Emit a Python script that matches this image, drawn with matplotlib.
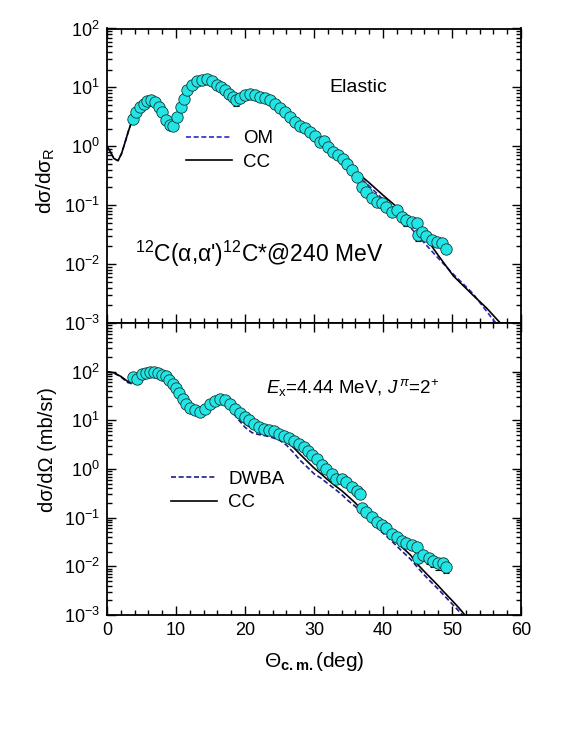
import numpy as np
import matplotlib
matplotlib.use("Agg")
import matplotlib.pyplot as plt
from matplotlib.ticker import MultipleLocator, LogLocator, NullFormatter

plt.rcParams['font.family'] = ['Liberation Sans', 'DejaVu Sans']
plt.rcParams['mathtext.fontset'] = 'custom'
plt.rcParams['mathtext.rm'] = 'Liberation Sans'
plt.rcParams['mathtext.it'] = 'Liberation Sans:italic'
plt.rcParams['mathtext.bf'] = 'Liberation Sans:bold'
plt.rcParams['mathtext.sf'] = 'Liberation Sans'
plt.rcParams['axes.unicode_minus'] = False

# ---------------- elastic data (top panel) ----------------
el_ang = [3.72, 4.2, 4.78, 5.36, 5.85, 6.33, 6.96, 7.54, 8.0, 8.55,
          9.13, 9.61, 10.1, 10.7, 11.2, 11.64, 12.27, 13.0, 13.7, 14.44,
          15.17, 15.9, 16.5, 17.1, 17.7, 18.3, 18.7, 19.3, 20.0, 20.7,
          21.4, 22.2, 22.9, 23.6, 24.3, 25.1, 25.8, 26.5, 27.2, 28.0,
          28.7, 29.4, 30.1, 30.9, 31.4, 32.1, 32.8, 33.5, 34.25, 34.8,
          35.5, 36.2, 36.9, 37.6, 38.4, 39.1, 39.8, 40.5, 41.3, 42.0,
          42.7, 43.4, 44.2, 44.9, 45.1, 45.6, 46.3, 47.05, 47.8, 48.5,
          49.2]
el_val = [2.94, 3.82, 4.64, 5.29, 5.86, 6.03, 5.64, 4.64, 3.82, 2.76,
          2.27, 2.19, 3.14, 4.64, 6.43, 8.9, 11.2, 12.8, 13.1, 13.7,
          12.6, 11.2, 10.1, 8.9, 7.8, 7.0, 6.2, 6.7, 7.3, 7.6,
          7.3, 7.0, 6.7, 6.0, 5.15, 4.5, 3.8, 3.2, 2.6, 2.19,
          2.07, 1.75, 1.48, 1.18, 1.23, 0.98, 0.80, 0.70, 0.62, 0.51,
          0.39, 0.30, 0.204, 0.168, 0.13, 0.114, 0.107, 0.094, 0.077, 0.082,
          0.063, 0.056, 0.052, 0.049, 0.031, 0.035, 0.030, 0.026, 0.024, 0.023,
          0.0177]
el_err_idx = [26, 61, 64]
el_err_size = [1.4, 0.012, 0.006]

cc_el_ang = [0, 0.5, 1.0, 1.6, 2.1, 2.6, 3.1, 3.7, 4.5, 5.5, 6.3, 7.0, 7.8, 8.6,
             9.4, 10.2, 11.0, 12.0, 13.0, 14.2, 15.2, 16.2, 17.2, 18.2, 19.2,
             20.2, 21.2, 22.2, 23.2, 24.2, 25.2, 26.2, 27.2, 28.2, 29.2, 30.2,
             31.2, 32.2, 34.25, 36, 38, 40, 41.7, 44, 46.3, 48, 50.2, 53, 55, 57, 58]
cc_el_val = [1.0, 0.8, 0.62, 0.57, 0.75, 1.15, 1.8, 2.9, 4.3, 5.6, 6.0, 5.5, 4.2, 2.9,
             2.2, 2.6, 4.6, 8.5, 12.0, 13.6, 12.8, 10.8, 9.0, 7.6, 6.9,
             7.1, 7.2, 7.0, 6.4, 5.4, 4.4, 3.5, 2.7, 2.15, 1.75, 1.42,
             1.15, 0.95, 0.54, 0.38, 0.24, 0.148, 0.1, 0.054, 0.027, 0.0141, 0.0063, 0.003,
             0.0018, 0.001, 0.00077]
om_el_ang = cc_el_ang[:39] + [36, 37.6, 40, 42, 45.4, 48, 50, 53, 56, 57]
om_el_val = cc_el_val[:39] + [0.35, 0.234, 0.126, 0.076, 0.0272, 0.0126, 0.0071, 0.0032,
                              0.00112, 0.00083]

# ---------------- inelastic 2+ data (bottom panel) ----------------
in_ang = [3.8, 4.4, 5.0, 5.65, 6.2, 6.8, 7.4, 7.9, 8.55, 9.0,
          9.5, 10.0, 10.5, 11.0, 11.45, 12.0, 12.75, 13.5, 14.2, 14.9,
          15.65, 16.4, 17.1, 17.8, 18.55, 19.3, 20.0, 20.6, 21.3, 22.0,
          22.75, 23.5, 24.2, 24.9, 25.65, 26.4, 27.1, 27.8, 28.55, 29.2,
          29.7, 30.4, 31.1, 31.8, 32.6, 33.2, 34.0, 34.7, 35.5, 36.2,
          36.6, 36.9, 37.6, 38.4, 39.1, 39.8, 40.5, 41.3, 42.0, 42.7,
          43.4, 44.15, 44.9, 45.1, 45.8, 46.6, 47.3, 48.0, 48.7, 49.2]
in_val = [78, 71, 88, 95, 98, 99, 95, 87, 80, 69,
          56, 46, 37, 28, 22, 18, 16, 14.5, 17.5, 22,
          25, 27, 26, 22, 17, 14, 11.5, 10, 8.6, 7.3,
          6.7, 6.3, 6.0, 5.3, 4.7, 4.3, 3.85, 3.3, 2.8, 2.3,
          1.9, 1.6, 1.19, 1.0, 0.78, 0.62, 0.63, 0.54, 0.43, 0.36,
          0.31, 0.155, 0.13, 0.104, 0.082, 0.07, 0.06, 0.047, 0.04, 0.033,
          0.03, 0.027, 0.025, 0.0145, 0.017, 0.0145, 0.0126, 0.0115, 0.0115, 0.0098]
in_err_idx = [1, 45, 57, 60, 61, 62, 63, 64, 65, 66, 67, 68, 69]
in_err_size = [14, 0.08, 0.006, 0.005, 0.005, 0.005, 0.003, 0.004, 0.0035, 0.003,
               0.003, 0.003, 0.0025]

cc_in_ang = [0, 1, 2, 3, 3.5, 4.5, 5.5, 6.5, 7.5, 8.5, 9.5, 10.5, 11.5, 12.5, 13.5,
             14.5, 15.5, 16.5, 17.5, 18, 19, 20, 21, 22, 23, 24, 25, 26, 27, 28, 29,
             30, 31, 32, 33, 34, 35, 36, 37, 38, 39, 40, 41, 42, 43, 44, 45, 46, 47,
             48, 49, 50, 51, 52]
cc_in_val = [100, 95, 80, 63, 60, 70, 88, 97, 95, 80, 57, 37, 22, 16, 14.5,
             18, 24, 27, 23, 17, 12, 8.5, 6.8, 6.0, 5.6, 5.1, 4.5, 3.6, 2.8, 2.0, 1.45,
             1.05, 0.8, 0.6, 0.46, 0.36, 0.27, 0.2, 0.14, 0.1, 0.075, 0.057, 0.043, 0.031,
             0.023, 0.017, 0.011, 0.0078, 0.0056, 0.0040, 0.0028, 0.002, 0.0014, 0.00095]
dw_in_ang = cc_in_ang
dw_in_val = [100, 94, 78, 60, 57, 68, 86, 95, 93, 78, 55, 36, 21, 15.5, 14,
             17, 23, 26, 21, 16, 10.5, 7.2, 5.6, 5.1, 4.8, 4.4, 3.9, 3.1, 2.2, 1.5, 1.1,
             0.8, 0.65, 0.5, 0.39, 0.3, 0.22, 0.17, 0.12, 0.088, 0.065, 0.048, 0.036,
             0.026, 0.019, 0.014, 0.0095, 0.0066, 0.0047, 0.0034, 0.0024, 0.0017,
             0.0012, 0.00085]

x_major = [0, 10, 20, 30, 40, 50, 60]

# ---------------- figure ----------------
W, H = 566, 733
fig = plt.figure(figsize=(W / 100, H / 100), dpi=100)
left, right = 107 / W, 521 / W
ax1 = fig.add_axes([left, 1 - 323 / H, right - left, (323 - 28.5) / H])
ax2 = fig.add_axes([left, 1 - 615 / H, right - left, (615 - 323) / H])

cyan = '#22E6E6'
om_col = '#2A2AC8'
dw_col = '#1C1C90'
msz = 8.2

def style(ax, ylo, yhi, labels_x):
    ax.set_yscale('log')
    ax.set_xlim(0, 60)
    ax.set_ylim(ylo, yhi)
    ax.xaxis.set_major_locator(MultipleLocator(10))
    ax.xaxis.set_minor_locator(MultipleLocator(2))
    ax.yaxis.set_major_locator(LogLocator(base=10, numticks=20))
    ax.yaxis.set_minor_locator(LogLocator(base=10, subs=np.arange(2, 10), numticks=20))
    ax.yaxis.set_minor_formatter(NullFormatter())
    ax.tick_params(which='both', direction='in', top=True, right=True,
                   labelsize=13, width=1.0)
    ax.tick_params(which='major', length=6.5, pad=5)
    ax.tick_params(which='minor', length=3.5)
    ax.tick_params(axis='x', labelbottom=labels_x)
    for s in ax.spines.values():
        s.set_linewidth(1.3)

style(ax1, 1e-3, 1e2, False)
style(ax2, 1e-3, 1e3, True)
ax2.set_xticks(x_major)
ax2.set_xticklabels([str(v) for v in x_major])
ax2.set_yticks([1e-3, 1e-2, 1e-1, 1e0, 1e1, 1e2, 1e3])
ax2.set_yticklabels(['$\\mathdefault{10^{-3}}$', '$\\mathdefault{10^{-2}}$',
                     '$\\mathdefault{10^{-1}}$', '$\\mathdefault{10^{0}}$',
                     '$\\mathdefault{10^{1}}$', '$\\mathdefault{10^{2}}$', ''])

# ---- top panel ----
ax1.plot(om_el_ang, om_el_val, color=om_col, lw=1.2, dashes=(3, 1.6), label='OM', zorder=2)
ax1.plot(cc_el_ang, cc_el_val, color='black', lw=1.2, label='CC', zorder=2)
ax1.errorbar([el_ang[i] for i in el_err_idx], [el_val[i] for i in el_err_idx],
             yerr=el_err_size, fmt='none', ecolor='black', elinewidth=0.8,
             capsize=2, capthick=0.8, zorder=3)
ax1.plot(el_ang, el_val, 'o', ms=msz, mfc=cyan, mec='#123838', mew=0.6, zorder=4)
ax1.legend(loc='upper left', bbox_to_anchor=(0.191, 0.655), frameon=False,
           fontsize=13.5, handlelength=2.45, handletextpad=0.6, labelspacing=0.35,
           borderpad=0, borderaxespad=0)
ax1.text(32.2, 8.3, 'Elastic', fontsize=14, ha='left', va='baseline')
ax1.text(4.0, 0.011, "$^{12}$C(α,α')$^{12}$C*@240 MeV", fontsize=16.5,
         ha='left', va='baseline')
ax1.set_ylabel('dσ/dσ$_\\mathrm{R}$', fontsize=15)
ax1.yaxis.set_label_coords(-0.12, 0.485)

# ---- bottom panel ----
ax2.plot(dw_in_ang, dw_in_val, color=dw_col, lw=1.2, dashes=(3, 1.6), label='DWBA', zorder=2)
ax2.plot(cc_in_ang, cc_in_val, color='black', lw=1.2, label='CC', zorder=2)
ax2.errorbar([in_ang[i] for i in in_err_idx], [in_val[i] for i in in_err_idx],
             yerr=in_err_size, fmt='none', ecolor='black', elinewidth=0.8,
             capsize=2, capthick=0.8, zorder=3)
ax2.plot(in_ang, in_val, 'o', ms=msz, mfc=cyan, mec='#123838', mew=0.6, zorder=4)
ax2.legend(loc='upper left', bbox_to_anchor=(0.155, 0.495), frameon=False,
           fontsize=13.5, handlelength=2.45, handletextpad=0.6, labelspacing=0.35,
           borderpad=0, borderaxespad=0)
ax2.text(23.1, 35, '$E_\\mathrm{x}$=4.44 MeV, $J^{\\,\\pi}$=2$^{+}$', fontsize=13.5,
         ha='left', va='baseline')
ax2.set_ylabel('dσ/dΩ (mb/sr)', fontsize=14.5)
ax2.yaxis.set_label_coords(-0.12, 0.565)
ax2.set_xlabel('Θ$_{\\mathbf{c.m.}}$(deg)', fontsize=15, labelpad=8)

fig.savefig('out.png', dpi=100)
